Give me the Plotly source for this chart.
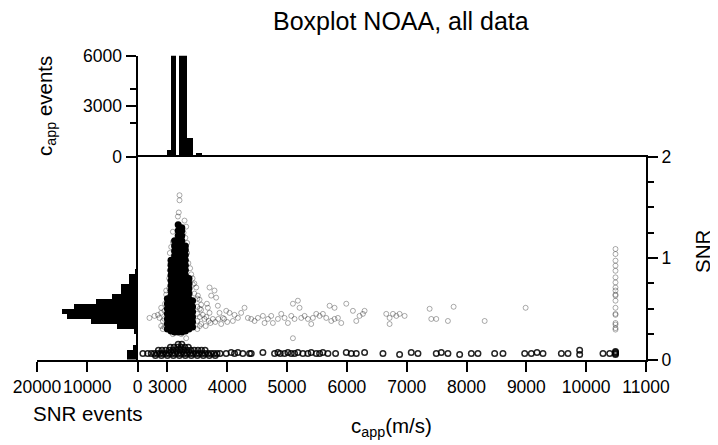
import plotly.graph_objects as go

# ---------------- data ----------------
# top histogram: c_app events (bin edges in m/s, counts)
capp_bin_lo = [2840, 2980, 3045, 3190, 3323, 3468, 3565, 3687, 10448]
capp_bin_hi = [2920, 3045, 3134, 3323, 3423, 3565, 3649, 3754, 10545]
capp_counts = [100, 400, 9000, 9000, 1100, 260, 90, 100, 80]

# left histogram: SNR events
snr_bin_centers = [0.025, 0.075, 0.125, 0.175, 0.225, 0.275, 0.325, 0.375, 0.425, 0.475,
                   0.525, 0.575, 0.625, 0.675, 0.725, 0.775, 0.825, 0.875, 0.925, 0.975]
snr_counts = [2000, 2000, 800, 350, 350, 700, 4100, 9300, 14100, 15000,
              12600, 8300, 5000, 3200, 3200, 1600, 1600, 500, 300, 100]

# dense core of the scatter (c_app columns and their SNR values)
core_cols = [3000, 3060, 3120, 3180, 3240, 3300, 3360, 3420]
core_snr = [
    [0.30, 0.35, 0.40, 0.45, 0.50, 0.55, 0.60],
    [0.28, 0.33, 0.38, 0.43, 0.48, 0.53, 0.58, 0.63, 0.68, 0.73, 0.78, 0.83, 0.88, 0.93, 0.98],
    [0.27, 0.32, 0.37, 0.42, 0.47, 0.52, 0.57, 0.62, 0.67, 0.72, 0.77, 0.82, 0.87, 0.92, 0.97,
     1.02, 1.07, 1.12, 1.17],
    [0.27, 0.32, 0.37, 0.42, 0.47, 0.52, 0.57, 0.62, 0.67, 0.72, 0.77, 0.82, 0.87, 0.92, 0.97,
     1.02, 1.07, 1.12, 1.17, 1.22, 1.27, 1.33],
    [0.27, 0.32, 0.37, 0.42, 0.47, 0.52, 0.57, 0.62, 0.67, 0.72, 0.77, 0.82, 0.87, 0.92, 0.97,
     1.02, 1.07, 1.12, 1.17, 1.22, 1.27, 1.30],
    [0.28, 0.33, 0.38, 0.43, 0.48, 0.53, 0.58, 0.63, 0.68, 0.73, 0.78, 0.83, 0.88, 0.93, 0.98,
     1.03, 1.08, 1.12],
    [0.30, 0.35, 0.40, 0.45, 0.50, 0.55, 0.60, 0.65, 0.70, 0.75, 0.80],
    [0.32, 0.37, 0.42, 0.47, 0.52, 0.58],
]

# scattered (sparse) points, upper band
ring_c = [3202, 3202, 3190, 3175, 3286, 3314, 3091, 3091, 3063, 3040, 3398, 3425, 3481, 3509,
          3537, 3564, 3564, 3592, 3620, 3564, 3704, 3732, 3787, 3815, 3676, 3704, 3843, 3871,
          3899, 3927, 3983, 4038, 4094, 4122, 4178, 4233, 4289, 4345,
          2980, 2980, 2896, 2896, 2868, 2840, 2784, 2700, 2923, 2896, 2923,
          3091, 3147, 3230, 3314,
          3500, 3500, 3500, 3500, 3500, 3540, 3540, 3540, 3450, 3450, 3420, 3380, 3350, 3330,
          3330, 3300, 3270, 3030, 3030, 3050, 3040, 2990, 2960, 2950, 2950, 2950,
          3640, 3650, 3660, 3690, 3720, 3760, 3800, 3850, 3950, 4000,
          4401, 4457, 4512, 4596, 4624, 4680, 4735, 4763, 4847, 4903, 4958, 5014, 5070, 5098,
          5125, 5181, 5209, 5237, 5293, 5348, 5404, 5432, 5488, 5544, 5599, 5655, 5711, 5739,
          5794, 5794, 5850, 5906, 5990, 6101, 6157, 6212, 6268, 6296, 6658, 6714, 6714, 6770,
          6826, 6881, 6965, 7383, 7411, 7494, 7689, 7784, 8303, 8988, 5098,
          10490, 10490, 10490, 10490, 10490, 10490, 10490, 10490, 10490, 10490, 10490, 10490,
          10490, 10490, 10490, 10490, 10490, 10490, 10490]
ring_snr = [1.62, 1.57, 1.45, 1.41, 1.37, 1.31, 1.26, 1.16, 1.11, 1.05, 0.84, 0.74, 0.71, 0.63,
            0.59, 0.54, 0.49, 0.44, 0.40, 0.35, 0.71, 0.63, 0.68, 0.61, 0.51, 0.46, 0.53, 0.46,
            0.35, 0.41, 0.48, 0.46, 0.38, 0.44, 0.41, 0.46, 0.51, 0.41,
            0.68, 0.64, 0.51, 0.46, 0.41, 0.44, 0.43, 0.41, 0.38, 0.33, 0.30,
            0.25, 0.28, 0.25, 0.21,
            0.30, 0.38, 0.45, 0.52, 0.60, 0.33, 0.42, 0.50, 0.65, 0.75, 0.80, 0.90, 0.95, 1.05,
            1.15, 1.20, 1.25, 0.70, 0.80, 0.95, 0.88, 0.60, 0.55, 0.48, 0.40, 0.32,
            0.33, 0.42, 0.55, 0.38, 0.36, 0.40, 0.37, 0.40, 0.40, 0.37,
            0.40, 0.38, 0.41, 0.43, 0.36, 0.40, 0.43, 0.36, 0.40, 0.45, 0.41, 0.36, 0.43, 0.55,
            0.40, 0.58, 0.51, 0.41, 0.43, 0.40, 0.35, 0.41, 0.45, 0.43, 0.45, 0.41, 0.53, 0.38,
            0.51, 0.40, 0.41, 0.36, 0.55, 0.48, 0.38, 0.43, 0.45, 0.48, 0.45, 0.41, 0.35, 0.45,
            0.43, 0.45, 0.43, 0.50, 0.40, 0.40, 0.38, 0.52, 0.38, 0.51, 0.21,
            1.09, 1.04, 0.975, 0.925, 0.875, 0.81, 0.76, 0.71, 0.68, 0.64, 0.63, 0.58, 0.51,
            0.45, 0.44, 0.36, 0.345, 0.31, 0.295]

# low-SNR band
low_c = [2590, 2670, 2730, 2780, 2830, 2880, 2930, 2980, 3030, 3080, 3130, 3180, 3230, 3280,
         3330, 3380, 3430, 3480, 3530, 3580, 3630, 3680, 3730, 3780, 3830, 3880,
         2850, 2910, 2970, 3030, 3090, 3150, 3210, 3270, 3330, 3390, 3450, 3510, 3570, 3630,
         3050, 3110, 3170, 3230, 3290, 3350,
         2800, 2900, 3000, 3100, 3200, 3300, 3400, 3500, 3600, 3700, 3800,
         3180, 3240,
         3982, 4066, 4122, 4178, 4261, 4373, 4401, 4596, 4791, 4847, 4886, 4958, 5014, 5070,
         5125, 5181, 5265, 5348, 5404, 5488, 5544, 5599, 5683, 5811, 5990, 6073, 6157, 6296,
         6603, 6881, 7076, 7188, 7494, 7578, 7689, 7885, 8080, 8191, 8470, 8609, 8972, 9083,
         9178, 9278, 9585, 9696, 9891, 9891, 10281, 10393, 10490, 10490, 10490, 10490]
low_snr = [0.06, 0.06, 0.06, 0.06, 0.06, 0.06, 0.06, 0.06, 0.06, 0.06, 0.06, 0.06, 0.06, 0.06,
           0.06, 0.06, 0.06, 0.06, 0.06, 0.06, 0.06, 0.06, 0.06, 0.06, 0.06, 0.06,
           0.09, 0.09, 0.09, 0.09, 0.09, 0.09, 0.09, 0.09, 0.09, 0.09, 0.09, 0.09, 0.09, 0.09,
           0.12, 0.12, 0.12, 0.12, 0.12, 0.12,
           0.04, 0.04, 0.04, 0.04, 0.04, 0.04, 0.04, 0.04, 0.04, 0.04, 0.04,
           0.15, 0.15,
           0.06, 0.07, 0.06, 0.07, 0.06, 0.06, 0.06, 0.07, 0.06, 0.07, 0.06, 0.06, 0.07, 0.06,
           0.06, 0.07, 0.06, 0.06, 0.07, 0.06, 0.06, 0.07, 0.06, 0.06, 0.07, 0.06, 0.06, 0.07,
           0.06, 0.05, 0.07, 0.06, 0.06, 0.07, 0.06, 0.05, 0.06, 0.06, 0.06, 0.06, 0.06, 0.06,
           0.07, 0.06, 0.06, 0.06, 0.05, 0.09, 0.06, 0.06, 0.05, 0.06, 0.07, 0.08]

x_ticks = [3000, 4000, 5000, 6000, 7000, 8000, 9000, 10000, 11000]
x_ticklabels = ["3000", "4000", "5000", "6000", "7000", "8000", "9000", "10000", "11000"]
events_ticks = [0, 10000, 20000]
events_ticklabels = ["0", "10000", "20000"]
snr_ticks = [0, 1, 2]
snr_ticklabels = ["0", "1", "2"]
snr_minor = [0.25, 0.5, 0.75, 1.25, 1.5, 1.75]
capp_ev_ticks = [0, 3000, 6000]
capp_ev_ticklabels = ["0", "3000", "6000"]
capp_ev_minor = [2000, 4000]

# ---------------- figure ----------------
# The page body has an 8px margin, so the figure is drawn at (8, 8) inside the
# 718x445 window; layout positions below are given in window pixels.
OFF = 8
W, H = 718 - OFF, 445 - OFF
def px_x(p):
    return (p - OFF) / W
def px_y(p):
    return (H - (p - OFF)) / H

FONT = "Liberation Sans, Arial, Helvetica, sans-serif"

fig = go.Figure()

# scatter
core_x = [c for c, col in zip(core_cols, core_snr) for _ in col]
core_y = [v for col in core_snr for v in col]
fig.add_trace(go.Scatter(x=core_x, y=core_y, mode="markers", xaxis="x", yaxis="y",
                         marker=dict(symbol="circle", size=7, color="black",
                                     line=dict(width=0)), showlegend=False, hoverinfo="skip"))
fig.add_trace(go.Scatter(x=ring_c, y=ring_snr, mode="markers", xaxis="x", yaxis="y",
                         marker=dict(symbol="circle-open", size=5,
                                     color="rgba(0,0,0,0.33)", line=dict(width=1)),
                         showlegend=False))
fig.add_trace(go.Scatter(x=low_c, y=low_snr, mode="markers", xaxis="x", yaxis="y",
                         marker=dict(symbol="circle-open", size=5.5,
                                     color="rgba(0,0,0,0.85)", line=dict(width=1.5)),
                         showlegend=False))

# top histogram
centers = [(a + b) / 2 for a, b in zip(capp_bin_lo, capp_bin_hi)]
widths = [b - a for a, b in zip(capp_bin_lo, capp_bin_hi)]
fig.add_trace(go.Bar(x=centers, y=capp_counts, width=widths, xaxis="x", yaxis="y3",
                     marker=dict(color="black", line=dict(width=0)), showlegend=False))

# left histogram
fig.add_trace(go.Bar(y=snr_bin_centers, x=snr_counts, orientation="h", width=0.05,
                     xaxis="x2", yaxis="y",
                     marker=dict(color="black", line=dict(width=0)), showlegend=False))

tickfont = dict(family=FONT, size=17.5, color="black")
axis_common = dict(showgrid=False, zeroline=False, showline=True, linecolor="black",
                   linewidth=2, ticks="outside", tickcolor="black", tickwidth=1.5,
                   ticklen=10, tickfont=tickfont, automargin=False, tickangle=0)

fig.update_layout(
    width=W, height=H, margin=dict(l=0, r=0, t=0, b=0, autoexpand=False),
    plot_bgcolor="white", paper_bgcolor="white", bargap=0,
    xaxis=dict(domain=[px_x(137.5), px_x(646)], range=[2500, 11000], anchor="y",
               tickvals=x_ticks, ticktext=x_ticklabels, mirror=True, **axis_common),
    xaxis2=dict(domain=[px_x(37), px_x(137.5)], range=[20000, 0], anchor="y",
                tickvals=events_ticks, ticktext=events_ticklabels, **axis_common),
    yaxis=dict(domain=[px_y(359.5), px_y(156.7)], range=[0, 2], anchor="x", side="right",
               tickvals=snr_ticks, ticktext=snr_ticklabels, mirror=True,
               minor=dict(tickvals=snr_minor, ticks="outside", ticklen=6, tickwidth=1.5,
                          tickcolor="black"),
               **axis_common),
    yaxis3=dict(domain=[px_y(156.7), px_y(55.7)], range=[0, 6000], anchor="x", side="left",
                tickvals=capp_ev_ticks, ticktext=capp_ev_ticklabels,
                minor=dict(tickvals=capp_ev_minor, ticks="outside", ticklen=6, tickwidth=1.5,
                           tickcolor="black"),
                **axis_common),
)

ann_font = dict(family=FONT, size=20.5, color="black")
title_font = dict(family=FONT, size=25, color="black")
fig.add_annotation(x=px_x(401), y=px_y(21), xref="paper", yref="paper", showarrow=False,
                   text="Boxplot NOAA, all data", font=title_font,
                   xanchor="center", yanchor="middle")
fig.add_annotation(x=px_x(46), y=px_y(106), xref="paper", yref="paper", showarrow=False,
                   text="c<sub>app</sub> events", font=ann_font, textangle=-90,
                   xanchor="center", yanchor="middle")
fig.add_annotation(x=px_x(87), y=px_y(413), xref="paper", yref="paper", showarrow=False,
                   text="SNR events", font=ann_font, xanchor="center", yanchor="middle")
fig.add_annotation(x=px_x(392), y=px_y(427), xref="paper", yref="paper", showarrow=False,
                   text="c<sub>app</sub>(m/s)", font=ann_font, xanchor="center", yanchor="middle")
fig.add_annotation(x=px_x(702), y=px_y(252), xref="paper", yref="paper", showarrow=False,
                   text="SNR", font=ann_font, textangle=-90, xanchor="center", yanchor="middle")

fig.write_html("out.html")
